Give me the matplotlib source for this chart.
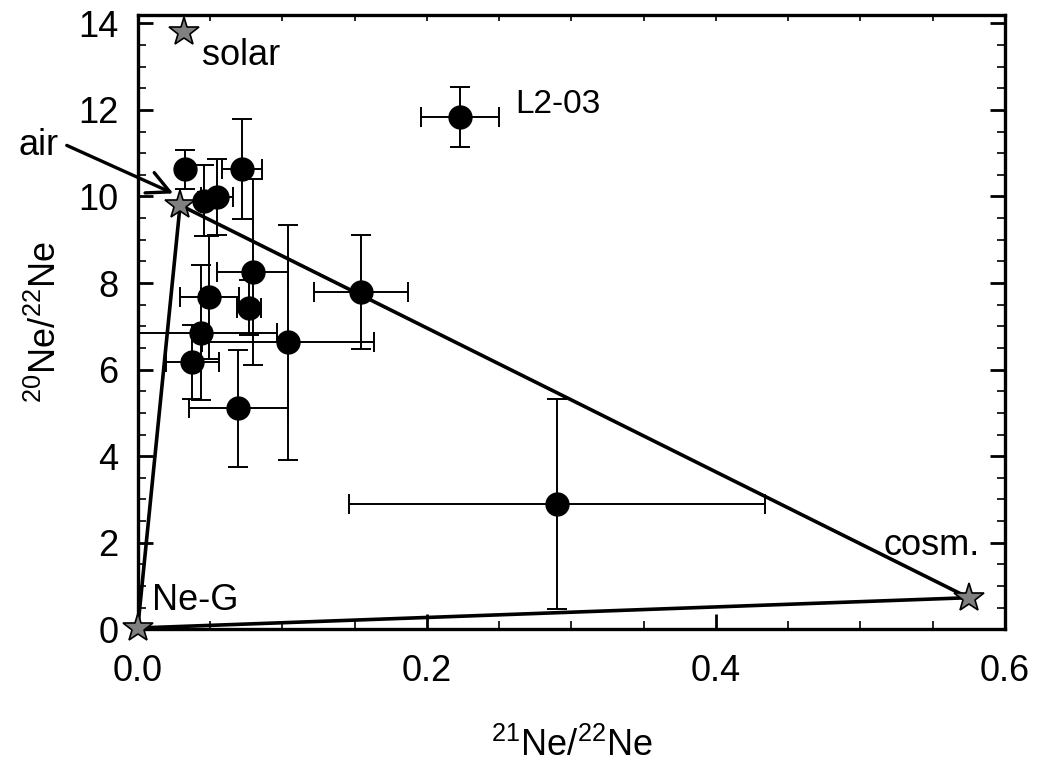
import matplotlib
matplotlib.use("Agg")
import matplotlib.pyplot as plt
from matplotlib.ticker import MultipleLocator

plt.rcParams['font.family'] = ['Liberation Sans', 'DejaVu Sans']
plt.rcParams['mathtext.fontset'] = 'custom'
plt.rcParams['mathtext.rm'] = 'Liberation Sans'
plt.rcParams['mathtext.it'] = 'Liberation Sans'
plt.rcParams['mathtext.default'] = 'rm'

# samples: 21Ne/22Ne, 20Ne/22Ne with 1-sigma errors
x21 = [0.0327, 0.0459, 0.0551, 0.0720, 0.0796, 0.0496, 0.0436, 0.0378,
       0.0770, 0.1042, 0.1543, 0.0696, 0.2230, 0.2900]
x21_err = [0.003, 0.004, 0.011, 0.0137, 0.0246, 0.0205, 0.053, 0.0184,
           0.0081, 0.0595, 0.0326, 0.0343, 0.0268, 0.144]
y20 = [10.63, 9.90, 9.98, 10.63, 8.25, 7.67, 6.85, 6.18,
       7.43, 6.63, 7.80, 5.11, 11.84, 2.89]
y20_err = [0.45, 0.82, 0.88, 1.16, 2.15, 1.42, 1.56, 0.85,
           0.63, 2.71, 1.32, 1.35, 0.69, 2.42]

# end-members
comp_names = ['solar', 'air', 'Ne-G', 'cosm.']
comp_x = [0.0323, 0.0293, 0.0, 0.5748]
comp_y = [13.80, 9.80, 0.03, 0.73]

fig = plt.figure(figsize=(10.38, 7.64), dpi=100)
ax = fig.add_axes([0.1327, 0.1763, 0.8355, 0.8045])

# mixing triangle air - cosm. - Ne-G
tri = ['air', 'cosm.', 'Ne-G', 'air']
tx = [comp_x[comp_names.index(n)] for n in tri]
ty = [comp_y[comp_names.index(n)] for n in tri]
ax.plot(tx, ty, color='black', lw=2.6, zorder=2, clip_on=False)

ax.errorbar(x21, y20, xerr=x21_err, yerr=y20_err, fmt='o', color='black',
            ms=16.5, elinewidth=1.4, capsize=7, capthick=1.4, zorder=3)

ax.plot(comp_x, comp_y, ls='none', marker='*', ms=22, mfc='#808080',
        mec='black', mew=1.2, zorder=4, clip_on=False)

fs = 26
ax.text(0.0443, 13.04, 'solar', fontsize=fs)
ax.text(0.0097, 0.45, 'Ne-G', fontsize=fs)
ax.text(0.516, 1.72, 'cosm.', fontsize=fs)
ax.text(0.2612, 11.92, 'L2-03', fontsize=24)
ax.text(-0.0826, 10.96, 'air', fontsize=fs, clip_on=False)
ax.annotate('', xy=(0.0246, 10.07), xytext=(-0.0491, 11.18),
            arrowprops=dict(arrowstyle='->', lw=2.4, color='black',
                            mutation_scale=40, shrinkA=0, shrinkB=0),
            annotation_clip=False)

ax.set_xlim(0, 0.6)
ax.set_ylim(0, 14.2)
ax.xaxis.set_major_locator(MultipleLocator(0.2))
ax.xaxis.set_minor_locator(MultipleLocator(0.05))
ax.yaxis.set_major_locator(MultipleLocator(2))
ax.yaxis.set_minor_locator(MultipleLocator(0.5))
ax.xaxis.set_major_formatter(matplotlib.ticker.FormatStrFormatter('%.1f'))

ax.tick_params(which='both', direction='in', right=True, top=False)
ax.tick_params(which='major', length=11, width=2, labelsize=26)
ax.tick_params(axis='x', which='major', pad=18)
ax.tick_params(axis='y', which='major', pad=14)
ax.tick_params(which='minor', length=6, width=1.2)
for s in ax.spines.values():
    s.set_linewidth(2.4)

top = ax.secondary_xaxis('top')
top.xaxis.set_major_locator(MultipleLocator(0.05))
top.tick_params(direction='in', length=4, width=1.2, labeltop=False)

ax.set_xlabel(r'$^{21}$Ne/$^{22}$Ne', fontsize=26, labelpad=28)
ax.set_ylabel(r'$^{20}$Ne/$^{22}$Ne', fontsize=26, labelpad=10)

fig.savefig('out.png', dpi=100)
